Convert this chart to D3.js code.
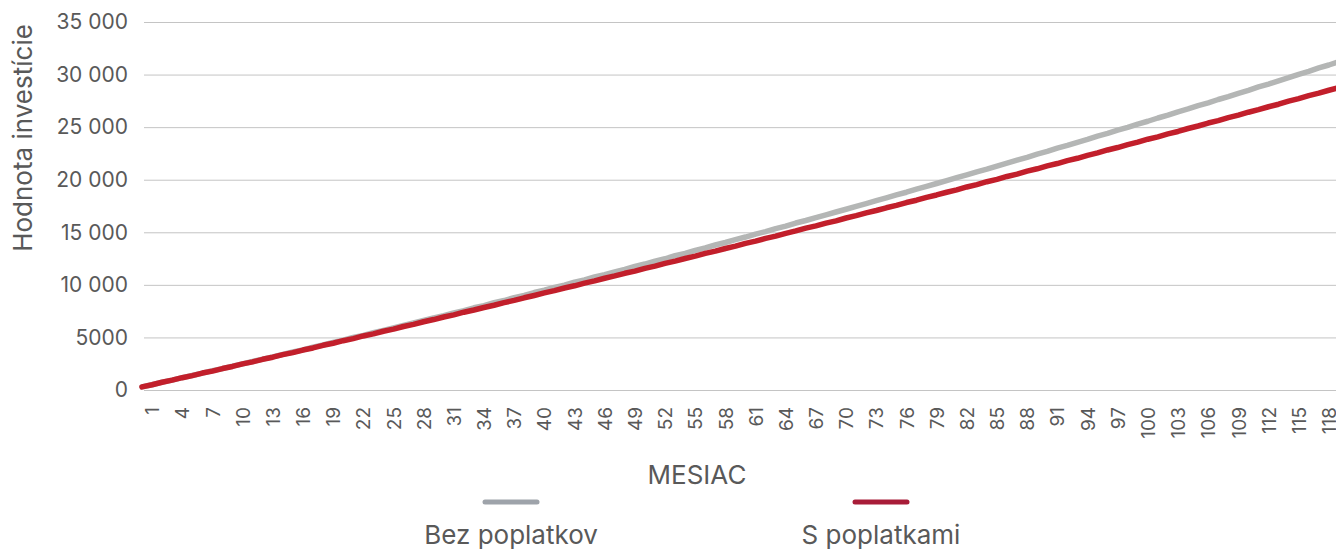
<!DOCTYPE html>
<html lang="sk">
<head>
    <meta charset="utf-8">
    <title>Hodnota investície</title>
    <style>
        body {
            margin: 0;
            background: #fff;
        }
        svg text {
            font-family: Inter, "Noto Sans", sans-serif;
            fill: #595959;
        }
        .grid line {
            stroke: #c4c4c4;
            stroke-width: 1;
        }
        .series {
            fill: none;
            stroke-width: 5.5;
            stroke-linecap: round;
            stroke-linejoin: round;
        }
    </style>
</head>
<body>
<svg width="1336" height="549"></svg>
<script src="https://cdnjs.cloudflare.com/ajax/libs/d3/7.8.5/d3.min.js"></script>
<script>
    // months 0..120 (line starts at month 0)
    var months = d3.range(0, 121);

    // value without fees
    var bezPoplatkov = [
        300, 500, 750, 940, 1170, 1380, 1610, 1840, 2030, 2270,
        2490, 2710, 2940, 3150, 3390, 3610, 3820, 4080, 4280, 4530,
        4740, 5000, 5200, 5450, 5670, 5910, 6140, 6380, 6610, 6860,
        7080, 7340, 7550, 7820, 8030, 8300, 8510, 8790, 9000, 9270,
        9490, 9760, 9980, 10260, 10470, 10750, 10980, 11240, 11480, 11750,
        11980, 12260, 12480, 12770, 12990, 13280, 13510, 13790, 14030, 14300,
        14550, 14830, 15060, 15350, 15590, 15880, 16120, 16400, 16660, 16930,
        17190, 17470, 17730, 18010, 18270, 18550, 18810, 19100, 19360, 19640,
        19910, 20190, 20460, 20750, 21010, 21300, 21570, 21860, 22130, 22430,
        22690, 23000, 23260, 23560, 23830, 24140, 24400, 24710, 24980, 25290,
        25560, 25870, 26140, 26460, 26730, 27040, 27310, 27630, 27910, 28220,
        28500, 28820, 29100, 29410, 29700, 30020, 30300, 30630, 30910, 31230,
        31530
    ];

    // value with fees
    var sPoplatkami = [
        300, 500, 740, 940, 1170, 1370, 1610, 1800, 2040, 2240,
        2480, 2680, 2920, 3120, 3360, 3560, 3800, 4000, 4250, 4450,
        4690, 4890, 5140, 5340, 5590, 5790, 6040, 6240, 6490, 6700,
        6940, 7150, 7400, 7610, 7850, 8060, 8310, 8520, 8770, 8990,
        9230, 9450, 9700, 9910, 10160, 10380, 10630, 10850, 11100, 11310,
        11570, 11780, 12040, 12260, 12510, 12730, 12990, 13210, 13460, 13680,
        13940, 14160, 14420, 14640, 14900, 15130, 15390, 15610, 15870, 16090,
        16360, 16580, 16840, 17070, 17330, 17560, 17830, 18050, 18320, 18550,
        18810, 19040, 19310, 19540, 19810, 20030, 20310, 20530, 20810, 21040,
        21310, 21540, 21810, 22040, 22320, 22550, 22830, 23060, 23330, 23570,
        23850, 24080, 24360, 24590, 24870, 25110, 25390, 25620, 25900, 26140,
        26420, 26660, 26940, 27180, 27470, 27710, 27990, 28230, 28510, 28760,
        29030
    ];

    var yTicks = [0, 5000, 10000, 15000, 20000, 25000, 30000, 35000];
    var yTickLabels = ["0", "5000", "10 000", "15 000", "20 000", "25 000", "30 000", "35 000"];
    var xTicks = d3.range(1, 119, 3);   // 1, 4, 7 ... 118
    var seriesNames = ["Bez poplatkov", "S poplatkami"];

    var svg = d3.select("svg");

    var x = d3.scaleLinear().domain([0, 120]).range([142, 1349]);
    var y = d3.scaleLinear().domain([0, 35000]).range([390, 22]);

    // horizontal gridlines + y labels
    var yAxis = d3.axisLeft(y)
        .tickValues(yTicks)
        .tickSize(-(1336 - 144))
        .tickPadding(16)
        .tickFormat(function (d, i) { return yTickLabels[i]; });

    var gy = svg.append("g")
        .attr("class", "grid")
        .attr("transform", "translate(144,0)")
        .call(yAxis);
    gy.select(".domain").remove();
    gy.selectAll("text")
        .attr("font-size", 21)
        .attr("fill", "#595959");

    // x labels (rotated)
    var xAxis = d3.axisBottom(x)
        .tickValues(xTicks)
        .tickSize(0)
        .tickFormat(d3.format("d"));

    var gx = svg.append("g")
        .attr("transform", "translate(0,390)")
        .call(xAxis);
    gx.select(".domain").remove();
    gx.selectAll("text")
        .attr("font-size", 19)
        .attr("fill", "#595959")
        .attr("text-anchor", "end")
        .attr("transform", "rotate(-90)")
        .attr("x", -17)
        .attr("y", 0)
        .attr("dy", "0.35em");

    // lines
    var line = d3.line()
        .x(function (d, i) { return x(months[i]); })
        .y(function (d) { return y(d); });

    svg.append("path")
        .datum(bezPoplatkov)
        .attr("class", "series")
        .attr("stroke", "#b4b6b5")
        .attr("d", line);

    svg.append("path")
        .datum(sPoplatkami)
        .attr("class", "series")
        .attr("stroke", "#c21f2b")
        .attr("d", line);

    // axis titles
    svg.append("text")
        .attr("transform", "translate(23,138) rotate(-90)")
        .attr("text-anchor", "middle")
        .attr("dy", "0.35em")
        .attr("font-size", 26)
        .text("Hodnota investície");

    svg.append("text")
        .attr("x", 697)
        .attr("y", 475)
        .attr("text-anchor", "middle")
        .attr("dy", "0.35em")
        .attr("font-size", 26)
        .text("MESIAC");

    // legend
    var legendX = [511, 881];
    var legendColor = ["#9ea3aa", "#a81c38"];
    var legend = svg.selectAll(".legend")
        .data(seriesNames)
        .enter().append("g")
        .attr("class", "legend")
        .attr("transform", function (d, i) { return "translate(" + legendX[i] + ",0)"; });

    legend.append("line")
        .attr("x1", -26).attr("x2", 26)
        .attr("y1", 502).attr("y2", 502)
        .attr("stroke", function (d, i) { return legendColor[i]; })
        .attr("stroke-width", 5)
        .attr("stroke-linecap", "round");

    legend.append("text")
        .attr("y", 544)
        .attr("text-anchor", "middle")
        .attr("font-size", 26)
        .text(function (d) { return d; });
</script>
</body>
</html>
